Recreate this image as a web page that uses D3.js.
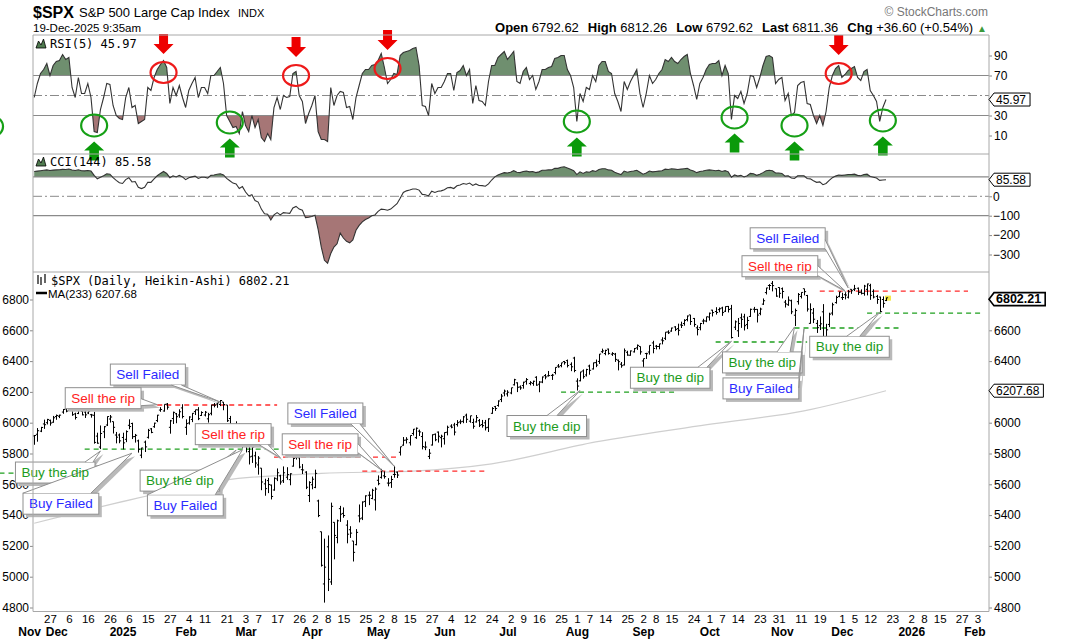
<!DOCTYPE html>
<html>
<head>
<meta charset="utf-8">
<script src="https://cdn.jsdelivr.net/npm/d3@7"></script>
<style>
  body { margin: 0; background: #fff; }
  svg { display: block; font-family: "Liberation Sans", Arial, sans-serif; }
</style>
</head>
<body>
<svg id="chart" width="1073" height="640"></svg>
<script>
// ---- data ----
const holidays = ["2024-11-28","2024-12-25","2025-01-01","2025-01-09","2025-01-20","2025-02-17","2025-04-18",
  "2025-05-26","2025-06-19","2025-07-04","2025-09-01","2025-11-27","2025-12-25","2026-01-01","2026-01-19"];

// daily bars, 2024-11-20 .. 2025-12-19 (one value per trading day)
const barOpen = [
  5914,5925,5945,5992,6000,6015,6003,
  6040,6042,6069,6090,6081,6083,6057,6060,6074,6069,6063,6052,6048,5913,5842,5941,5985,6024,6007,5920,5920,
  5904,5892,5983,5995,5910,5882,5789,5874,5905,5960,5974,6014,6082,6076,6121,5970,6027,6058,6050,6096,
  5970,5998,6021,6072,6083,6047,6050,6025,6061,6115,6121,6118,6134,6115,6027,5983,5971,5982,5857,
  5969,5812,5782,5785,5726,5705,5603,5624,5595,5563,5635,5655,5623,5646,5630,5718,5775,5772,5695,5679,5527,
  5597,5580,5492,5292,4953,5194,4966,5353,5255,5442,5411,5335,5305,5232,5208,5395,5381,5489,5529,5508,5499,
  5626,5645,5655,5608,5611,5664,5679,5808,5854,5887,5870,5930,5903,5945,5910,5841,5781,5855,5925,5939,5903,
  5896,5938,5978,5985,5988,6005,6009,6049,6010,6001,6005,6013,5988,5999,5970,6061,6104,6112,6151,6193,
  6187,6193,6246,6259,6232,6241,6269,6255,6255,6295,6250,6264,6306,6304,6307,6326,6368,6371,6397,6403,6379,6420,
  6270,6272,6336,6310,6368,6349,6390,6398,6461,6449,6478,6445,6445,6406,6380,6375,6457,6438,6460,6486,6495,
  6401,6449,6459,6518,6497,6495,6537,6548,6589,6595,6622,6611,6635,6644,6670,6700,6677,6616,6617,6660,6660,
  6686,6731,6722,6734,6745,6724,6755,6740,6620,6597,6681,6687,6638,6690,6737,6736,6710,6770,6845,6891,6905,6870,6878,
  6870,6783,6766,6792,6698,6786,6820,6870,6826,6645,6712,6645,6630,6720,6556,6638,6712,6780,6820,
  6812,6831,6815,6866,6866,6873,6847,6840,6866,6890,6853,6820,6816,6800,6793];
const barHigh = [
  5920,5965,5973,6020,6025,6020,6044,
  6053,6052,6089,6099,6099,6089,6065,6092,6079,6078,6085,6057,6071,5935,5982,5978,6041,6050,6007,5940,5930,
  5935,5950,6022,6000,5927,5890,5837,5884,5960,5965,6000,6051,6101,6119,6128,6018,6072,6063,6087,6120,
  6022,6042,6062,6084,6101,6074,6076,6064,6116,6128,6129,6147,6134,6115,6044,5992,6009,5994,5959,
  5986,5866,5861,5812,5783,5705,5636,5642,5598,5645,5703,5662,5716,5711,5672,5775,5786,5787,5732,5685,5620,
  5650,5695,5500,5292,5247,5268,5481,5353,5371,5460,5450,5367,5328,5232,5309,5469,5489,5528,5553,5571,5581,
  5658,5700,5684,5640,5655,5720,5683,5844,5907,5906,5917,5959,5969,5955,5939,5878,5829,5924,5930,5943,5922,
  5937,5981,5990,5999,6017,6021,6043,6059,6045,6026,6050,6024,6018,6018,6028,6101,6109,6145,6187,6215,
  6211,6227,6285,6262,6242,6266,6290,6270,6273,6302,6270,6300,6316,6336,6317,6360,6381,6389,6401,6410,6392,6428,
  6288,6330,6346,6350,6377,6390,6410,6446,6481,6474,6481,6458,6453,6410,6394,6482,6467,6469,6485,6508,6495,
  6416,6454,6502,6532,6505,6513,6555,6588,6600,6617,6627,6643,6656,6672,6696,6700,6680,6632,6648,6675,6688,
  6715,6733,6750,6748,6753,6755,6758,6765,6664,6680,6709,6707,6688,6741,6752,6738,6747,6807,6876,6900,6920,6872,6879,
  6878,6797,6820,6799,6741,6842,6847,6870,6830,6775,6745,6667,6690,6770,6642,6714,6779,6825,6850,
  6844,6852,6862,6867,6895,6878,6866,6895,6903,6902,6866,6830,6818,6820,6812];
const barLow = [
  5860,5880,5942,5963,5992,5984,6003,
  6022,6033,6061,6071,6079,6048,6024,6059,6051,6034,6059,6036,5867,5867,5832,5903,5982,6004,5933,5869,5870,
  5830,5877,5961,5897,5874,5809,5773,5813,5900,5935,5970,6007,6074,6075,6088,5932,5995,6000,6035,6031,
  5924,5991,6007,6053,6020,6047,6044,6004,6051,6103,6100,6111,6084,6008,5977,5908,5932,5858,5837,
  5810,5732,5742,5711,5666,5565,5529,5546,5505,5562,5624,5601,5612,5632,5597,5718,5764,5707,5670,5572,5488,
  5571,5578,5390,5069,4835,4910,4950,5116,5220,5359,5386,5220,5255,5102,5207,5356,5371,5456,5468,5506,5433,
  5597,5640,5640,5590,5580,5646,5644,5790,5854,5868,5855,5920,5898,5917,5830,5825,5767,5855,5883,5874,5843,
  5861,5921,5967,5921,5978,5994,6000,6002,6003,5964,6004,5975,5971,5953,5943,6061,6080,6107,6137,6175,
  6173,6188,6245,6202,6217,6224,6250,6246,6243,6243,6201,6260,6285,6303,6281,6317,6360,6363,6380,6362,6338,6331,
  6212,6272,6289,6303,6315,6349,6364,6385,6455,6441,6445,6437,6398,6343,6360,6375,6438,6438,6459,6476,6445,
  6361,6417,6445,6454,6479,6480,6512,6540,6579,6594,6598,6570,6618,6633,6661,6638,6626,6570,6603,6643,6656,
  6666,6693,6705,6720,6697,6722,6719,6550,6605,6560,6619,6602,6611,6690,6718,6654,6701,6768,6836,6865,6856,6821,6814,
  6810,6751,6762,6708,6631,6770,6810,6830,6725,6646,6650,6586,6605,6525,6521,6624,6700,6776,6818,
  6800,6804,6810,6840,6858,6833,6836,6828,6830,6801,6810,6775,6721,6750,6793];
const barClose = [
  5917,5948,5969,5987,6021,5998,6032,
  6047,6049,6086,6075,6090,6052,6034,6084,6051,6051,6074,6050,5872,5867,5930,5974,6040,6037,5970,5906,5882,
  5869,5942,5975,5909,5918,5827,5836,5843,5950,5937,5997,6049,6086,6119,6101,6012,6067,6039,6071,6040,
  5994,6037,6061,6084,6026,6066,6068,6052,6115,6114,6129,6144,6118,6013,5983,5955,5956,5861,5955,
  5849,5778,5842,5738,5770,5615,5572,5599,5521,5639,5675,5615,5675,5663,5668,5768,5777,5712,5693,5581,5612,
  5633,5671,5397,5074,5062,4983,5457,5268,5363,5406,5397,5276,5283,5158,5288,5376,5485,5525,5529,5561,5569,
  5604,5687,5650,5607,5631,5664,5660,5844,5886,5892,5917,5958,5964,5940,5845,5842,5802,5922,5889,5912,5912,
  5936,5970,5971,5939,6000,6006,6038,6022,6045,5977,6033,5983,5981,5967,6025,6092,6092,6141,6173,6205,
  6198,6227,6279,6230,6226,6263,6280,6260,6269,6244,6264,6297,6297,6306,6309,6359,6363,6389,6390,6371,6363,6339,
  6238,6330,6299,6345,6340,6389,6374,6446,6466,6469,6450,6449,6411,6396,6370,6467,6439,6466,6481,6502,6460,
  6416,6448,6502,6482,6495,6512,6532,6588,6584,6615,6606,6600,6632,6664,6693,6657,6638,6605,6644,6661,6688,
  6711,6715,6716,6740,6715,6754,6735,6553,6655,6644,6671,6630,6664,6736,6735,6699,6738,6792,6875,6891,6890,6822,6840,
  6852,6771,6796,6720,6728,6832,6846,6851,6738,6734,6672,6617,6642,6539,6603,6705,6766,6813,6849,
  6813,6829,6850,6857,6870,6846,6840,6887,6901,6827,6816,6800,6721,6775,6811];

const rsi5 = [
  48,62,72,76,82,70,80,84,85,91, 86,88,58,48,68,52,52,62,48,14, 13,36,48,62,61,40,30,27,26,48,
  58,38,40,22,24,26,58,55,68,76, 81,85,78,42,58,50,60,48,38,55, 62,68,48,58,58,52,70,70,74,78,
  62,30,24,18,19,12,34,20,14,30, 18,26,8,4,12,6,38,48,36,50, 48,49,72,74,50,44,22,32,40,50,
  14,6,6,4,58,40,50,54,53,38, 39,26,48,60,72,76,76,80,81,85, 92,78,62,66,72,71,90,93,94,95,
  97,98,80,40,39,30,62,52,58,58, 64,72,72,55,73,75,80,70,76,42, 60,45,44,40,64,80,80,88,91,94,
  86,90,94,64,62,74,78,66,70,56, 64,76,76,78,79,87,88,90,90,76, 70,58,24,52,44,58,56,70,64,80,
  84,84,74,72,52,44,34,64,56,64, 70,76,52,38,52,70,62,66,72,76, 86,84,88,84,82,86,89,91,72,60,
  46,62,68,76,81,82,82,85,70,80, 72,26,50,47,54,42,52,70,69,58, 68,80,89,90,88,62,66,68,45,52,
  30,33,60,63,64,42,41,30,22,30, 20,34,58,70,77,80,68,71,75,77, 79,68,65,74,76,55,50,44,24,38,
  45.97];

const cci144 = [
  128,130,132,134,136,133,135,136,137,139, 138,141,136,133,137,132,131,133,130,108,
  90,98,106,116,114,96,82,70,66,86, 96,74,76,46,40,46,72,72,90,106,
  118,128,118,96,106,100,108,100,86,96, 100,104,92,98,98,94,108,110,114,116,
  110,92,80,68,64,40,50,22,2,8, -22,-30,-66,-90,-92,-122,-96,-84,-96,-84,
  -86,-88,-60,-52,-66,-72,-110,-108,-104,-98, -170,-262,-330,-345,-295,-262,-245,-190,-215,-232,
  -240,-225,-175,-150,-132,-120,-112,-100,-96,-78, -66,-68,-72,-66,-52,-38,-10,20,28,32,
  38,38,32,10,8,2,26,20,26,28, 34,44,46,40,54,58,66,62,68,56,
  64,56,55,52,64,84,100,110,116,122, 120,124,132,124,122,128,130,126,128,122,
  126,134,134,136,136,144,144,150,152,146, 140,132,112,126,118,126,124,132,128,138,
  142,142,136,134,124,118,112,130,124,128, 130,134,124,114,120,130,126,128,130,132,
  140,138,142,140,138,140,142,144,136,130, 122,128,130,134,136,134,132,134,128,132,
  126,98,110,104,108,100,106,118,116,108, 114,122,132,134,132,120,120,118,104,106,
  94,92,106,106,106,92,90,80,72,74, 60,66,82,96,104,110,108,110,112,112,
  114,108,106,112,114,102,98,94,82,84, 85.58];

// MA(233) read at a few dates
const maDays = ["2024-11-20","2025-01-16","2025-02-20","2025-04-04","2025-05-16","2025-06-24","2025-08-11","2025-10-02","2025-11-12","2025-12-19"];
const maValues = [5347,5530,5626,5671,5686,5733,5875,5992,6077,6207.68];

// RSI signal markers
const sellDays = ["2025-01-23","2025-03-25","2025-05-06","2025-11-28"];
const sellLevels = [73,70,77,72];
const buyDays = ["2024-10-31","2024-12-18","2025-02-24","2025-08-01","2025-10-13","2025-11-07","2025-12-18"];
const buyLevels = [19,20,23,24,28,20,25];
const buyArrow = [false,true,true,true,true,true,true];

// dashed support / resistance levels
const levelKind  = ["sell","sell","sell","sell","buy","buy","buy","buy","buy","buy"];
const levelPrice = [6115,5777,5686,6855,5673,5829,6199,6524,6615,6712];
const levelFrom  = ["2025-01-21","2025-03-14","2025-04-24","2025-11-19","2024-11-05","2024-12-13","2025-07-25","2025-10-03","2025-11-07","2025-12-11"];
const levelTo    = ["2025-03-17","2025-05-09","2025-06-20","2026-01-29","2024-12-23","2025-03-18","2025-09-17","2025-11-13","2025-12-26","2026-02-05"];

// callouts
const calloutText  = ["Sell Failed","Sell the rip","Buy the dip","Buy Failed","Sell the rip","Buy the dip","Buy Failed",
  "Sell Failed","Sell the rip","Buy the dip","Buy the dip","Buy the dip","Buy Failed","Buy the dip","Sell the rip","Sell Failed"];
const calloutKind  = ["fail","sell","buy","fail","sell","buy","fail","fail","sell","buy","buy","buy","fail","buy","sell","fail"];
const calloutDay   = ["2025-02-19","2025-01-21","2024-12-20","2025-01-07","2025-03-18","2025-02-26","2025-02-28",
  "2025-05-08","2025-05-02","2025-08-04","2025-10-10","2025-11-07","2025-11-12","2025-12-17","2025-12-02","2025-12-03"];
const calloutPrice = [6134,6117,5816,5802,5773,5822,5824,5719,5694,6209,6529,6622,6609,6717,6857,6876];

// axis labels
const dayTicks = ["2024-11-27","2024-12-06","2024-12-16","2024-12-26","2025-01-06","2025-01-15","2025-01-27",
  "2025-02-04","2025-02-11","2025-02-21","2025-03-03","2025-03-07","2025-03-17","2025-03-26","2025-04-02","2025-04-08",
  "2025-04-15","2025-04-25","2025-05-02","2025-05-08","2025-05-15","2025-05-27","2025-06-04","2025-06-12","2025-06-24",
  "2025-07-02","2025-07-09","2025-07-16","2025-07-25","2025-08-01","2025-08-07","2025-08-14","2025-08-25","2025-09-02",
  "2025-09-08","2025-09-15","2025-09-24","2025-10-01","2025-10-07","2025-10-14","2025-10-23","2025-10-31","2025-11-11",
  "2025-11-19","2025-12-01","2025-12-05","2025-12-12","2025-12-23","2026-01-02","2026-01-08","2026-01-15","2026-01-27","2026-02-03"];
const monthTicks = ["2024-11-20","2024-12-02","2025-01-02","2025-02-03","2025-03-03","2025-04-01","2025-05-01","2025-06-02",
  "2025-07-01","2025-08-01","2025-09-02","2025-10-01","2025-11-03","2025-12-01","2026-01-02","2026-02-02"];
const monthLabels = ["Nov","Dec","2025","Feb","Mar","Apr","May","Jun","Jul","Aug","Sep","Oct","Nov","Dec","2026","Feb"];
const rsiTicks = [90,70,30,10];
const cciTicks = [0,-100,-200,-300];
const priceTicksRight = [6600,6400,6000,5800,5600,5400,5200,5000,4800];
const priceTicksLeft = [6800,6600,6400,6200,6000,5800,5600,5400,5200,5000,4800];

// ---- layout ----
const svg = d3.select("#chart");
const X0 = 33, X1 = 989;
const rsiTop = 35, rsiBot = 154, cciTop = 154, cciBot = 272, pxTop = 272, pxBot = 611.5;
const GRID = "#a8a8a8", UP = "#6f8f6f", DOWN = "#a67676";
const RED = "#ff2222", BLUE = "#2b2bff", GREEN = "#1d9b1d";
const MONO = "DejaVu Sans Mono, monospace";

// trading-day calendar for the x axis
const fmt = d3.utcFormat("%Y-%m-%d");
const days = d3.utcDays(new Date(Date.UTC(2024, 9, 1)), new Date(Date.UTC(2026, 1, 6)))
  .filter(d => d.getUTCDay() !== 0 && d.getUTCDay() !== 6 && !holidays.includes(fmt(d)))
  .map(fmt);
const dayIdx = new Map(days.map((d, i) => [d, i]));
const i0 = dayIdx.get("2024-11-20");

const xi = d3.scaleLinear().domain([i0, i0 + 299]).range([34.2, 977.5]);
const xd = d => xi(dayIdx.get(d));
const xb = i => xi(i0 + i);
const yRsi = d3.scaleLinear().domain([30, 70]).range([115.5, 75.5]);
const yCci = d3.scaleLinear().domain([-100, 100]).range([215.7, 176.9]);
const yPx = d3.scaleLinear().domain([4800, 6800]).range([607.5, 299.5]);

// clip paths
const defs = svg.append("defs");
function clip(id, x, y, w, h) {
  defs.append("clipPath").attr("id", id).append("rect").attr("x", x).attr("y", y).attr("width", w).attr("height", h);
}
clip("cRsi", X0, rsiTop, X1 - X0, rsiBot - rsiTop);
clip("cRsiHi", X0, rsiTop, X1 - X0, yRsi(70) - rsiTop);
clip("cRsiLo", X0, yRsi(30), X1 - X0, rsiBot - yRsi(30));
clip("cCciHi", X0, cciTop, X1 - X0, yCci(100) - cciTop);
clip("cCciLo", X0, yCci(-100), X1 - X0, cciBot - yCci(-100));
clip("cPx", X0, pxTop, X1 - X0, pxBot - pxTop);

// ---- header ----
svg.append("text").attr("x", 33).attr("y", 18).attr("font-size", 16).attr("font-weight", "bold").text("$SPX");
svg.append("text").attr("x", 79).attr("y", 17).attr("font-size", 13).text("S&P 500 Large Cap Index");
svg.append("text").attr("x", 238).attr("y", 17).attr("font-size", 11).text("INDX");
svg.append("text").attr("x", 33).attr("y", 32).attr("font-size", 11.5).text("19-Dec-2025 9:35am");
svg.append("text").attr("x", 988).attr("y", 16).attr("font-size", 12).attr("fill", "#777")
  .attr("text-anchor", "end").text("\u00a9 StockCharts.com");

const quote = svg.append("text").attr("x", 987).attr("y", 32).attr("font-size", 13).attr("text-anchor", "end");
[["Open", " 6792.62"], ["High", " 6812.26"], ["Low", " 6792.62"], ["Last", " 6811.36"], ["Chg", " +36.60 (+0.54%)"]]
  .forEach(([k, v], j) => {
    quote.append("tspan").attr("font-weight", "bold").attr("dx", j ? 9 : 0).text(k);
    quote.append("tspan").text(v);
  });
quote.append("tspan").attr("dx", 4).attr("fill", "#3a9a3a").attr("font-size", 10).text("\u25b2");

// ---- RSI panel ----
const gR = svg.append("g");
const rsiArea = base => d3.area().x((d, i) => xb(i)).y0(yRsi(base)).y1(d => yRsi(d));
gR.append("path").datum(rsi5).attr("d", rsiArea(70)).attr("fill", UP).attr("clip-path", "url(#cRsiHi)");
gR.append("path").datum(rsi5).attr("d", rsiArea(30)).attr("fill", DOWN).attr("clip-path", "url(#cRsiLo)");
[70, 30].forEach(v => gR.append("line").attr("x1", X0).attr("x2", X1).attr("y1", yRsi(v)).attr("y2", yRsi(v))
  .attr("stroke", "#8a8a8a").attr("stroke-width", 1.2));
gR.append("line").attr("x1", X0).attr("x2", X1).attr("y1", yRsi(50)).attr("y2", yRsi(50))
  .attr("stroke", "#8a8a8a").attr("stroke-dasharray", "9,3,2,3");
gR.append("path").datum(rsi5).attr("d", d3.line().x((d, i) => xb(i)).y(d => yRsi(d)))
  .attr("fill", "none").attr("stroke", "#333").attr("stroke-width", 1.1).attr("clip-path", "url(#cRsi)");

// ---- CCI panel ----
const gC = svg.append("g");
const cciArea = base => d3.area().x((d, i) => xb(i)).y0(yCci(base)).y1(d => yCci(d));
gC.append("path").datum(cci144).attr("d", cciArea(100)).attr("fill", UP).attr("clip-path", "url(#cCciHi)");
gC.append("path").datum(cci144).attr("d", cciArea(-100)).attr("fill", DOWN).attr("clip-path", "url(#cCciLo)");
[100, -100].forEach(v => gC.append("line").attr("x1", X0).attr("x2", X1).attr("y1", yCci(v)).attr("y2", yCci(v))
  .attr("stroke", "#8a8a8a").attr("stroke-width", 1.2));
gC.append("line").attr("x1", X0).attr("x2", X1).attr("y1", yCci(0)).attr("y2", yCci(0))
  .attr("stroke", "#8a8a8a").attr("stroke-dasharray", "9,3,2,3");
gC.append("path").datum(cci144).attr("d", d3.line().x((d, i) => xb(i)).y(d => yCci(d)))
  .attr("fill", "none").attr("stroke", "#333").attr("stroke-width", 1.1);

// ---- axes ----
function styleAxis(g, size, weight) {
  g.select(".domain").remove();
  g.selectAll(".tick line").attr("stroke", "#888");
  g.selectAll("text").attr("font-size", size).attr("font-weight", weight || "normal")
    .attr("fill", "#000").attr("font-family", "Liberation Sans, Arial, sans-serif");
}
svg.append("g").attr("transform", `translate(${X1},0)`)
  .call(d3.axisRight(yRsi).tickValues(rsiTicks).tickSize(3).tickPadding(2)).call(g => styleAxis(g, 12));
svg.append("g").attr("transform", `translate(${X1},0)`)
  .call(d3.axisRight(yCci).tickValues(cciTicks).tickSize(3).tickPadding(1).tickFormat(d3.format("d")))
  .call(g => styleAxis(g, 12));
svg.append("g").attr("transform", `translate(${X1},0)`)
  .call(d3.axisRight(yPx).tickValues(priceTicksRight).tickSize(3).tickPadding(2).tickFormat(d3.format("d")))
  .call(g => styleAxis(g, 12));
svg.append("g").attr("transform", `translate(${X0},0)`)
  .call(d3.axisLeft(yPx).tickValues(priceTicksLeft).tickSize(3).tickPadding(1).tickFormat(d3.format("d")))
  .call(g => styleAxis(g, 12));

svg.append("g").attr("transform", `translate(0,${pxBot})`)
  .call(d3.axisBottom(xi).tickValues(dayTicks.map(d => dayIdx.get(d))).tickSize(0).tickPadding(3.5)
    .tickFormat((v, k) => String(+dayTicks[k].slice(8))))
  .call(g => styleAxis(g, 11.5));
svg.append("g").attr("transform", `translate(0,${pxBot})`)
  .call(d3.axisBottom(xi).tickValues(monthTicks.map(d => dayIdx.get(d))).tickSize(0).tickPadding(15.5)
    .tickFormat((v, k) => monthLabels[k]))
  .call(g => styleAxis(g, 12, "bold"))
  .call(g => g.select(".tick text").attr("dx", -5));

// ---- price panel ----
const gP = svg.append("g");
gP.append("path").datum(maDays.map((d, k) => [xd(d), yPx(maValues[k])]))
  .attr("d", d3.line().curve(d3.curveMonotoneX)).attr("fill", "none").attr("stroke", "#cfcfcf")
  .attr("stroke-width", 1.2).attr("clip-path", "url(#cPx)");

// dashed levels
levelPrice.forEach((p, k) => {
  gP.append("line").attr("x1", xd(levelFrom[k])).attr("x2", xd(levelTo[k]))
    .attr("y1", yPx(p)).attr("y2", yPx(p))
    .attr("stroke", levelKind[k] === "sell" ? "#ff2a2a" : "#1fa01f")
    .attr("stroke-width", 1.3).attr("stroke-dasharray", "5,4");
});

// last (live) bar highlight
const last = barClose.length - 1;
gP.append("rect").attr("x", xb(last) - 1).attr("y", yPx(barHigh[last]) - 2).attr("width", 6).attr("height", 5)
  .attr("fill", "#f4e84a");

// bars
const gB = gP.append("g").attr("clip-path", "url(#cPx)").attr("stroke", "#000").attr("stroke-width", 1);
barClose.forEach((c, i) => {
  const x = Math.round(xb(i)) + 0.5;
  gB.append("line").attr("x1", x).attr("x2", x).attr("y1", yPx(barHigh[i])).attr("y2", yPx(barLow[i]) + 0.5);
  gB.append("line").attr("x1", x - 1.6).attr("x2", x).attr("y1", yPx(barOpen[i])).attr("y2", yPx(barOpen[i]));
  gB.append("line").attr("x1", x).attr("x2", x + 1.6).attr("y1", yPx(c)).attr("y2", yPx(c));
});

// callouts: shadows, boxes, pointers and labels drawn as separate layers
const calloutLayout = [
  {dx: -110, dy: -38, side: "bottom", b: [-14, -4]},
  {dx: -92, dy: -17, side: "right", b: [11, 18]},
  {dx: -85, dy: 11, side: "top", b: [-10, -2]},
  {dx: -109, dy: 40, side: "top", b: [-8, 0]},
  {dx: -85, dy: -34, side: "bottom", b: [-12, -3]},
  {dx: -96, dy: 20, side: "top", b: [-9, -1]},
  {dx: -95, dy: 45, side: "top", b: [-8, 0]},
  {dx: -106, dy: -63, side: "bottom", b: [-12, -3]},
  {dx: -99, dy: -36, side: "right", b: [10, 19]},
  {dx: -73, dy: 25, side: "top", b: [40, 50]},
  {dx: -101, dy: 26, side: "top", b: [-12, -3]},
  {dx: -72, dy: 25, side: "top", b: [-25, -12]},
  {dx: -81, dy: 49, side: "right", b: [0, 10]},
  {dx: -70, dy: 24, side: "top", b: [37, 50]},
  {dx: -103, dy: -35, side: "right", b: [10, 20]},
  {dx: -98, dy: -60, side: "right", b: [12, 21]}
];
const kindColor = {sell: RED, buy: GREEN, fail: BLUE};
const gA = svg.append("g");
const layShadow = gA.append("g").attr("fill", "#b9b9b9");
const layBox = gA.append("g");
const layWedge = gA.append("g");
const layText = gA.append("g");
calloutText.forEach((txt, k) => {
  const L = calloutLayout[k];
  const tx = xd(calloutDay[k]), ty = yPx(calloutPrice[k]);
  const bx = tx + L.dx, by = ty + L.dy, h = 21;
  const label = layText.append("text").attr("x", bx + 6).attr("y", by + 15).attr("font-size", 13.5)
    .attr("fill", kindColor[calloutKind[k]]).text(txt);
  const w = label.node().getComputedTextLength() + 12;
  const off = v => (v < 0 ? (L.side === "right" ? h : w) + v : v);
  let p1, p2;
  if (L.side === "top") { p1 = [bx + off(L.b[0]), by]; p2 = [bx + off(L.b[1]), by]; }
  else if (L.side === "bottom") { p1 = [bx + off(L.b[0]), by + h]; p2 = [bx + off(L.b[1]), by + h]; }
  else { p1 = [bx + w, by + off(L.b[0])]; p2 = [bx + w, by + off(L.b[1])]; }
  layShadow.append("rect").attr("x", bx + 3).attr("y", by + 3).attr("width", w).attr("height", h);
  layShadow.append("path").attr("d", `M${p1[0] + 3},${p1[1] + 3}L${tx + 3},${ty + 3}L${p2[0] + 3},${p2[1] + 3}Z`);
  layBox.append("rect").attr("x", bx).attr("y", by).attr("width", w).attr("height", h)
    .attr("fill", "#fff").attr("stroke", "#8f8f8f");
  layWedge.append("path").attr("d", `M${p1[0]},${p1[1]}L${tx},${ty}L${p2[0]},${p2[1]}`)
    .attr("fill", "#fff").attr("stroke", "#8f8f8f");
});

// RSI signal circles and arrows
const gS = svg.append("g");
sellDays.forEach((d, k) => {
  const cx = xd(d), cy = yRsi(sellLevels[k]);
  gS.append("ellipse").attr("cx", cx).attr("cy", cy).attr("rx", 13).attr("ry", 10.5)
    .attr("fill", "none").attr("stroke", "#ee1a1a").attr("stroke-width", 2.2);
  const t = cy - 18.5;
  gS.append("path").attr("fill", "#ee0000")
    .attr("d", `M${cx - 4.5},${t - 20}h9v10h5.5l-10,10l-10,-10h5.5z`);
});
buyDays.forEach((d, k) => {
  const cx = xd(d), cy = yRsi(buyLevels[k]);
  gS.append("ellipse").attr("cx", cx).attr("cy", cy).attr("rx", 13).attr("ry", 11)
    .attr("fill", "none").attr("stroke", "#16a016").attr("stroke-width", 2.2);
  if (!buyArrow[k]) return;
  const t = cy + 16;
  gS.append("path").attr("fill", "#0a9a0a")
    .attr("d", `M${cx},${t}l10,9h-5.2v10h-9.6v-10h-5.2z`);
});

// ---- frame ----
const gF = svg.append("g").attr("stroke", GRID).attr("fill", "none");
[rsiTop, cciTop, cciBot, pxBot].forEach(y => gF.append("line").attr("x1", X0).attr("x2", X1).attr("y1", y).attr("y2", y));
[X0, X1].forEach(x => gF.append("line").attr("x1", x).attr("x2", x).attr("y1", rsiTop).attr("y2", pxBot));

// value boxes on the right axis
function valueBox(y, text, bold) {
  const g = svg.append("g");
  const t = g.append("text").attr("x", 996).attr("y", y + 4.3).attr("font-size", bold ? 12.5 : 12)
    .attr("font-weight", bold ? "bold" : "normal").text(text);
  const w = t.node().getComputedTextLength() + 6;
  g.insert("path", "text").attr("d", `M${X1},${y}L${X1 + 5},${y - 6.5}H${X1 + 5 + w}V${y + 6.5}H${X1 + 5}Z`)
    .attr("fill", "#fff").attr("stroke", "#000").attr("stroke-width", bold ? 1.6 : 1);
}
valueBox(yRsi(rsi5[last]), "45.97");
valueBox(yCci(cci144[last]), "85.58");
valueBox(yPx(6802.21), "6802.21", true);
valueBox(yPx(maValues[maValues.length - 1]), "6207.68");

// ---- legends ----
function mountain(x, y) {
  svg.append("path").attr("d", `M${x},${y + 9}L${x + 2.5},${y + 2}L${x + 5},${y + 6}L${x + 7.5},${y}L${x + 10},${y + 9}Z`)
    .attr("fill", "#4f7a4f").attr("stroke", "#000").attr("stroke-width", 0.8);
}
mountain(36, 39);
svg.append("text").attr("x", 50).attr("y", 48).attr("font-family", MONO).attr("font-size", 12).text("RSI(5) 45.97");
mountain(36, 157);
svg.append("text").attr("x", 50).attr("y", 166).attr("font-family", MONO).attr("font-size", 12).text("CCI(144) 85.58");
const ic = svg.append("g").attr("stroke", "#000").attr("stroke-width", 1.2);
[[38, 275, 284], [41, 277, 285], [45, 274, 283]].forEach(([x, a, b]) =>
  ic.append("line").attr("x1", x).attr("x2", x).attr("y1", a).attr("y2", b));
svg.append("text").attr("x", 51).attr("y", 285).attr("font-family", MONO).attr("font-size", 12)
  .text("$SPX (Daily, Heikin-Ashi) 6802.21");
svg.append("line").attr("x1", 36).attr("x2", 47).attr("y1", 293).attr("y2", 293).attr("stroke", "#000").attr("stroke-width", 2.5);
svg.append("text").attr("x", 48).attr("y", 297.5).attr("font-size", 11.5).text("MA(233) 6207.68");
</script>
</body>
</html>
